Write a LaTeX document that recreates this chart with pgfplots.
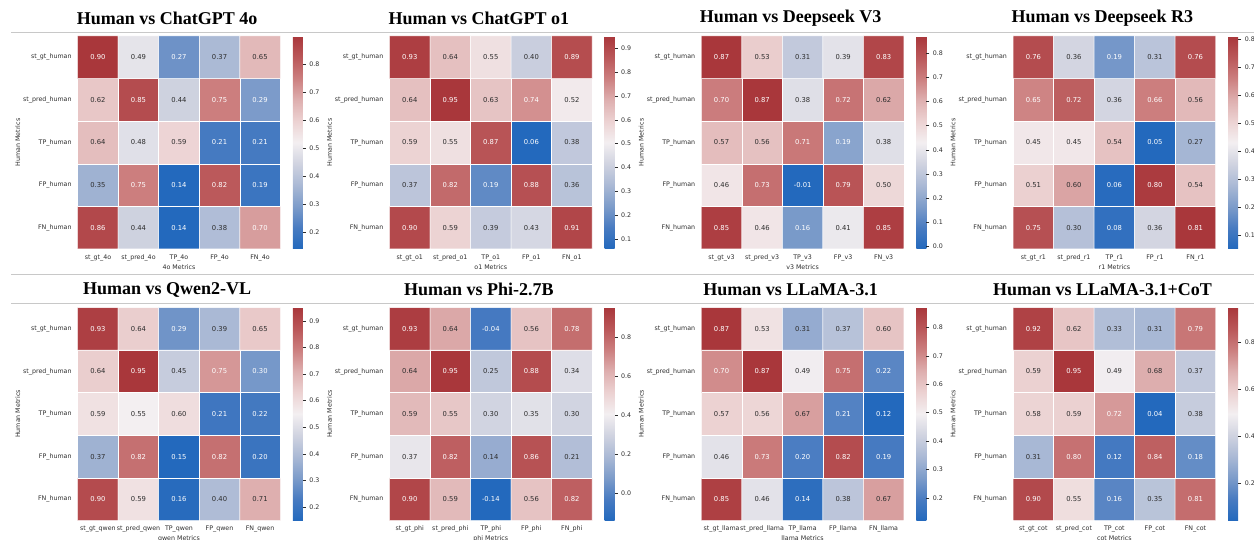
\documentclass[border=0pt]{standalone}
\usepackage{fontspec}
\setmainfont{DejaVu Sans}
\newfontfamily\titlefont{Liberation Serif}
\usepackage{pgfplots}
\pgfplotsset{compat=1.18}
\usepackage{pgfplotstable}
\definecolor{txt}{RGB}{45,45,45}
\definecolor{linegray}{RGB}{200,200,200}
\pgfplotsset{
  colormap={vlag}{
    rgb255(0)=(35,105,189)
    rgb255(1)=(72,123,193)
    rgb255(2)=(125,156,202)
    rgb255(3)=(170,185,213)
    rgb255(4)=(208,211,224)
    rgb255(5)=(243,239,241)
    rgb255(6)=(236,210,210)
    rgb255(7)=(222,175,175)
    rgb255(8)=(204,127,127)
    rgb255(9)=(186,87,89)
    rgb255(10)=(169,55,59)
  },
  hm/.style={
    width=202.6pt, height=213pt, scale only axis,
    xmin=-0.5, xmax=4.5, ymin=-0.5, ymax=4.5,
    xtick={0,1,2,3,4}, ytick={0,1,2,3,4},
    yticklabels={FN\_human, FP\_human, TP\_human, st\_pred\_human, st\_gt\_human},
    major tick length=0pt,
    axis line style={draw=none},
    tick label style={font=\fontsize{6.3}{7}\selectfont, text=txt},
    xticklabel style={anchor=center, yshift=-8.5pt, inner sep=0pt},
    yticklabel style={anchor=east, xshift=-6pt, inner sep=0pt},
    label style={font=\fontsize{6.3}{7}\selectfont, text=txt},
    xlabel style={at={(axis description cs:0.5,-0.0845)}, anchor=center},
    ylabel style={at={(axis description cs:-0.296,0.5)}, anchor=center},
    ylabel={Human Metrics},
    every axis title shift=0pt,
    title style={at={(axis description cs:0.441,1.084)}, anchor=center,
      font=\titlefont\bfseries\fontsize{18}{20}\selectfont, text=black},
    colormap name=vlag,
    colorbar,
    colorbar style={
      at={(parent axis.east)}, anchor=west, xshift=4pt,
      width=10pt, height=213pt, scale only axis,
      title={}, xlabel={}, ylabel={},
      ytick pos=right, yticklabel pos=right, tick align=outside,
      major tick length=3pt,
      ytick style={draw=txt, line width=0.5pt},
      axis line style={draw=none},
      yticklabel style={font=\fontsize{6.3}{7}\selectfont, text=txt,
        /pgf/number format/.cd, fixed, fixed zerofill, precision=1, assume math mode=true},
    },
    /pgf/number format/assume math mode=true,
  }
}
\newcommand\lbl{\pgfmathtruncatemacro\w{(\pgfplotspointmetatransformed<240)||(\pgfplotspointmetatransformed>735)}\ifnum\w>0 \color{white}\else\color{txt}\fi\pgfmathprintnumber[fixed,fixed zerofill,precision=2,assume math mode=true]{\pgfplotspointmeta}}
% #1 x, #2 y, #3 table, #4 suffix, #5 title, #6 min, #7 max, #8 cbar ticks
\newcommand\panel[8]{%
\begin{axis}[hm, at={(#1pt,#2pt)}, anchor=center,
  title={#5}, xlabel={#4 Metrics},
  xticklabels={st\_gt\_#4, st\_pred\_#4, TP\_#4, FP\_#4, FN\_#4},
  point meta min=#6, point meta max=#7,
  colorbar style={ytick={#8}}]
\addplot[matrix plot*, mesh/cols=5, point meta=explicit, draw=white, line width=0.5pt] table[x=x,y=y,meta=z] {#3};
\addplot[draw=none, mark=none, point meta=explicit, nodes near coords={\lbl},
  every node near coord/.append style={anchor=center, inner sep=0pt, font=\fontsize{6.8}{8}\selectfont}]
  table[x=x,y=y,meta=z] {#3};
\end{axis}}
\begin{document}
% rows listed from FN_human (y=0) up to st_gt_human (y=4)
\pgfplotstableread{
x y z
0 0 0.86
1 0 0.44
2 0 0.14
3 0 0.38
4 0 0.70
0 1 0.35
1 1 0.75
2 1 0.14
3 1 0.82
4 1 0.19
0 2 0.64
1 2 0.48
2 2 0.59
3 2 0.21
4 2 0.21
0 3 0.62
1 3 0.85
2 3 0.44
3 3 0.75
4 3 0.29
0 4 0.90
1 4 0.49
2 4 0.27
3 4 0.37
4 4 0.65
}\tA
\pgfplotstableread{
x y z
0 0 0.90
1 0 0.59
2 0 0.39
3 0 0.43
4 0 0.91
0 1 0.37
1 1 0.82
2 1 0.19
3 1 0.88
4 1 0.36
0 2 0.59
1 2 0.55
2 2 0.87
3 2 0.06
4 2 0.38
0 3 0.64
1 3 0.95
2 3 0.63
3 3 0.74
4 3 0.52
0 4 0.93
1 4 0.64
2 4 0.55
3 4 0.40
4 4 0.89
}\tB
\pgfplotstableread{
x y z
0 0 0.85
1 0 0.46
2 0 0.16
3 0 0.41
4 0 0.85
0 1 0.46
1 1 0.73
2 1 -0.01
3 1 0.79
4 1 0.50
0 2 0.57
1 2 0.56
2 2 0.71
3 2 0.19
4 2 0.38
0 3 0.70
1 3 0.87
2 3 0.38
3 3 0.72
4 3 0.62
0 4 0.87
1 4 0.53
2 4 0.31
3 4 0.39
4 4 0.83
}\tC
\pgfplotstableread{
x y z
0 0 0.75
1 0 0.30
2 0 0.08
3 0 0.36
4 0 0.81
0 1 0.51
1 1 0.60
2 1 0.06
3 1 0.80
4 1 0.54
0 2 0.45
1 2 0.45
2 2 0.54
3 2 0.05
4 2 0.27
0 3 0.65
1 3 0.72
2 3 0.36
3 3 0.66
4 3 0.56
0 4 0.76
1 4 0.36
2 4 0.19
3 4 0.31
4 4 0.76
}\tD
\pgfplotstableread{
x y z
0 0 0.90
1 0 0.59
2 0 0.16
3 0 0.40
4 0 0.71
0 1 0.37
1 1 0.82
2 1 0.15
3 1 0.82
4 1 0.20
0 2 0.59
1 2 0.55
2 2 0.60
3 2 0.21
4 2 0.22
0 3 0.64
1 3 0.95
2 3 0.45
3 3 0.75
4 3 0.30
0 4 0.93
1 4 0.64
2 4 0.29
3 4 0.39
4 4 0.65
}\tE
\pgfplotstableread{
x y z
0 0 0.90
1 0 0.59
2 0 -0.14
3 0 0.56
4 0 0.82
0 1 0.37
1 1 0.82
2 1 0.14
3 1 0.86
4 1 0.21
0 2 0.59
1 2 0.55
2 2 0.30
3 2 0.35
4 2 0.30
0 3 0.64
1 3 0.95
2 3 0.25
3 3 0.88
4 3 0.34
0 4 0.93
1 4 0.64
2 4 -0.04
3 4 0.56
4 4 0.78
}\tF
\pgfplotstableread{
x y z
0 0 0.85
1 0 0.46
2 0 0.14
3 0 0.38
4 0 0.67
0 1 0.46
1 1 0.73
2 1 0.20
3 1 0.82
4 1 0.19
0 2 0.57
1 2 0.56
2 2 0.67
3 2 0.21
4 2 0.12
0 3 0.70
1 3 0.87
2 3 0.49
3 3 0.75
4 3 0.22
0 4 0.87
1 4 0.53
2 4 0.31
3 4 0.37
4 4 0.60
}\tG
\pgfplotstableread{
x y z
0 0 0.90
1 0 0.55
2 0 0.16
3 0 0.35
4 0 0.81
0 1 0.31
1 1 0.80
2 1 0.12
3 1 0.84
4 1 0.18
0 2 0.58
1 2 0.59
2 2 0.72
3 2 0.04
4 2 0.38
0 3 0.59
1 3 0.95
2 3 0.49
3 3 0.68
4 3 0.37
0 4 0.92
1 4 0.62
2 4 0.33
3 4 0.31
4 4 0.79
}\tH
\begin{tikzpicture}
\path[use as bounding box] (0pt,0pt) rectangle (1254pt,539pt);
\clip (0pt,0pt) rectangle (1254pt,539pt);
\draw[linegray, line width=0.9pt] (11pt,506.7pt) -- (1254pt,506.7pt);
\draw[linegray, line width=0.9pt] (11pt,264.6pt) -- (1254pt,264.6pt);
\draw[linegray, line width=0.9pt] (11pt,235.7pt) -- (1254pt,235.7pt);
\panel{179.0}{396.5}{\tA}{4o}{Human vs ChatGPT 4o}{0.14}{0.90}{0.2,0.3,...,0.8}
\panel{490.8}{396.5}{\tB}{o1}{Human vs ChatGPT o1}{0.06}{0.95}{0.1,0.2,...,0.9}
\panel{802.6}{396.5}{\tC}{v3}{Human vs Deepseek V3}{-0.01}{0.87}{0.0,0.1,...,0.8}
\panel{1114.4}{396.5}{\tD}{r1}{Human vs Deepseek R3}{0.05}{0.81}{0.1,0.2,...,0.8}
\panel{179.0}{125.0}{\tE}{qwen}{Human vs Qwen2-VL}{0.15}{0.95}{0.2,0.3,...,0.9}
\panel{490.8}{125.0}{\tF}{phi}{Human vs Phi-2.7B}{-0.14}{0.95}{0.0,0.2,...,0.8}
\panel{802.6}{125.0}{\tG}{llama}{Human vs LLaMA-3.1}{0.12}{0.87}{0.2,0.3,...,0.8}
\panel{1114.4}{125.0}{\tH}{cot}{Human vs LLaMA-3.1+CoT}{0.04}{0.95}{0.2,0.4,0.6,0.8}
\end{tikzpicture}
\end{document}
